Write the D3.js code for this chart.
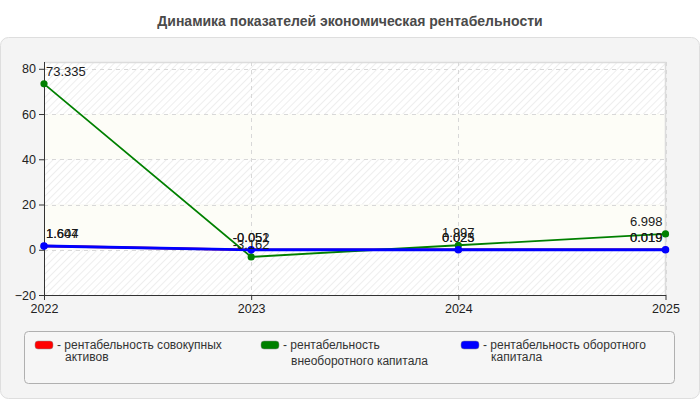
<!doctype html>
<html>
<head>
<meta charset="utf-8">
<style>
    body { margin: 0; background: #fff; }
    svg text { font-family: "Liberation Sans", Arial, sans-serif; }
</style>
</head>
<body>
<svg id="chart" width="700" height="400"></svg>
<script src="https://cdnjs.cloudflare.com/ajax/libs/d3/7.8.5/d3.min.js"></script>
<script>
    var years = ['2022', '2023', '2024', '2025'];
    var totalAssets = [1.644, -0.051, 0.025, 0.019];     // рентабельность совокупных активов
    var fixedCapital = [73.335, -3.162, 1.997, 6.998];   // рентабельность внеоборотного капитала
    var workingCapital = [1.607, -0.052, 0.023, 0.019];  // рентабельность оборотного капитала
    var yTicks = [-20, 0, 20, 40, 60, 80];
    var seriesNames = [
        ['- рентабельность совокупных', 'активов'],
        ['- рентабельность', 'внеоборотного капитала'],
        ['- рентабельность оборотного', 'капитала']
    ];
    var colors = ['#ff0000', '#008000', '#0000ff'];

    var svg = d3.select('#chart');
    var pLeft = 44, pRight = 665.5, pTop = 62, pBottom = 295;

    var x = d3.scalePoint().domain(years).range([pLeft, pRight]);
    var y = d3.scaleLinear().domain([-20, 83]).range([pBottom, pTop]);

    // outer panel
    svg.append('rect')
        .attr('x', 0.5).attr('y', 37.5).attr('width', 699).attr('height', 361)
        .attr('rx', 8).attr('fill', '#f4f4f4').attr('stroke', '#dedede');

    svg.append('text')
        .attr('x', 350).attr('y', 26)
        .attr('text-anchor', 'middle')
        .attr('font-size', 14).attr('font-weight', 'bold').attr('fill', '#4a4a4a')
        .text('Динамика показателей экономическая рентабельности');

    // hatch pattern
    var defs = svg.append('defs');
    var pat = defs.append('pattern')
        .attr('id', 'hatch').attr('patternUnits', 'userSpaceOnUse')
        .attr('width', 5).attr('height', 5)
        .attr('patternTransform', 'rotate(45)');
    pat.append('rect').attr('width', 5).attr('height', 5).attr('fill', '#ffffff');
    pat.append('line').attr('x1', 0).attr('y1', 0).attr('x2', 0).attr('y2', 5)
        .attr('stroke', '#e9e9e9').attr('stroke-width', 1.5);

    // plot bands
    var bands = [[60, 83, true], [40, 60, false], [20, 40, true], [0, 20, false], [-20, 0, true]];
    svg.append('g').selectAll('rect').data(bands).join('rect')
        .attr('x', pLeft).attr('width', pRight - pLeft)
        .attr('y', function(d) { return y(d[1]); })
        .attr('height', function(d) { return y(d[0]) - y(d[1]); })
        .attr('fill', function(d) { return d[2] ? 'url(#hatch)' : '#fdfdf7'; });

    // plot border top/right
    svg.append('path')
        .attr('d', 'M' + pLeft + ',' + (pTop + 0.5) + 'H' + pRight + 'V' + pBottom)
        .attr('fill', 'none').attr('stroke', '#dcdcdc').attr('stroke-width', 1.5);

    // grid
    var grid = svg.append('g').attr('stroke', '#d8d8d8').attr('stroke-dasharray', '4,4');
    grid.selectAll('line.h').data(yTicks.filter(function(t) { return t > -20; })).join('line')
        .attr('class', 'h')
        .attr('x1', pLeft).attr('x2', pRight)
        .attr('y1', function(d) { return Math.round(y(d)) + 0.5; })
        .attr('y2', function(d) { return Math.round(y(d)) + 0.5; });
    grid.selectAll('line.v').data(years.slice(1)).join('line')
        .attr('class', 'v')
        .attr('y1', pTop).attr('y2', pBottom)
        .attr('x1', function(d) { return Math.round(x(d)) + 0.5; })
        .attr('x2', function(d) { return Math.round(x(d)) + 0.5; });

    // axes
    var yAxis = svg.append('g')
        .attr('transform', 'translate(' + pLeft + ',0)')
        .call(d3.axisLeft(y).tickValues(yTicks).tickSize(5).tickPadding(3));
    var xAxis = svg.append('g')
        .attr('transform', 'translate(0,' + pBottom + ')')
        .call(d3.axisBottom(x).tickSize(5).tickPadding(4).tickSizeOuter(0));
    [yAxis, xAxis].forEach(function(a) {
        a.select('.domain').attr('stroke', '#333');
        a.selectAll('.tick line').attr('stroke', '#333');
        a.selectAll('.tick text').attr('fill', '#222').attr('font-size', 12.5)
            .attr('font-family', '"Liberation Sans", Arial, sans-serif');
    });
    yAxis.select('.domain').attr('d', 'M0.5,' + pTop + 'V' + pBottom);

    // series
    var series = [
        { values: totalAssets, color: colors[0], width: 2.4, r: 3.2 },
        { values: fixedCapital, color: colors[1], width: 1.8, r: 3.6 },
        { values: workingCapital, color: colors[2], width: 3, r: 3.8 }
    ];
    var line = d3.line()
        .x(function(d, i) { return x(years[i]); })
        .y(function(d) { return y(d); });

    series.forEach(function(s) {
        svg.append('path')
            .attr('d', line(s.values))
            .attr('fill', 'none').attr('stroke', s.color).attr('stroke-width', s.width);
        svg.append('g').selectAll('circle').data(s.values).join('circle')
            .attr('cx', function(d, i) { return x(years[i]); })
            .attr('cy', function(d) { return y(d); })
            .attr('r', s.r).attr('fill', s.color);
    });

    // data labels
    series.forEach(function(s) {
        svg.append('g').selectAll('text').data(s.values).join('text')
            .attr('font-size', 13).attr('fill', '#1a1a1a')
            .attr('y', function(d) { return y(d) - 8; })
            .text(function(d) { return String(d); })
            .each(function(d, i) {
                var w = this.getComputedTextLength();
                var cx = x(years[i]) - w / 2;
                cx = Math.max(pLeft + 2, Math.min(pRight - 3 - w, cx));
                d3.select(this).attr('x', cx);
            });
    });

    // legend
    svg.append('rect')
        .attr('x', 24.5).attr('y', 331.5).attr('width', 650).attr('height', 52)
        .attr('rx', 4).attr('fill', '#f6f6f6').attr('stroke', '#b0b0b0');
    var legendX = [35, 261, 461];
    var legendLine2Y = [361, 365, 361];
    seriesNames.forEach(function(name, i) {
        var g = svg.append('g');
        g.append('rect')
            .attr('x', legendX[i]).attr('y', 341).attr('width', 18).attr('height', 8)
            .attr('rx', 3).attr('fill', colors[i]).attr('stroke', '#888').attr('stroke-width', 0.5);
        g.append('text').attr('x', legendX[i] + 22).attr('y', 349)
            .attr('font-size', 12).attr('fill', '#333').text(name[0]);
        g.append('text').attr('x', legendX[i] + 30).attr('y', legendLine2Y[i])
            .attr('font-size', 12).attr('fill', '#333').text(name[1]);
    });
</script>
</body>
</html>
